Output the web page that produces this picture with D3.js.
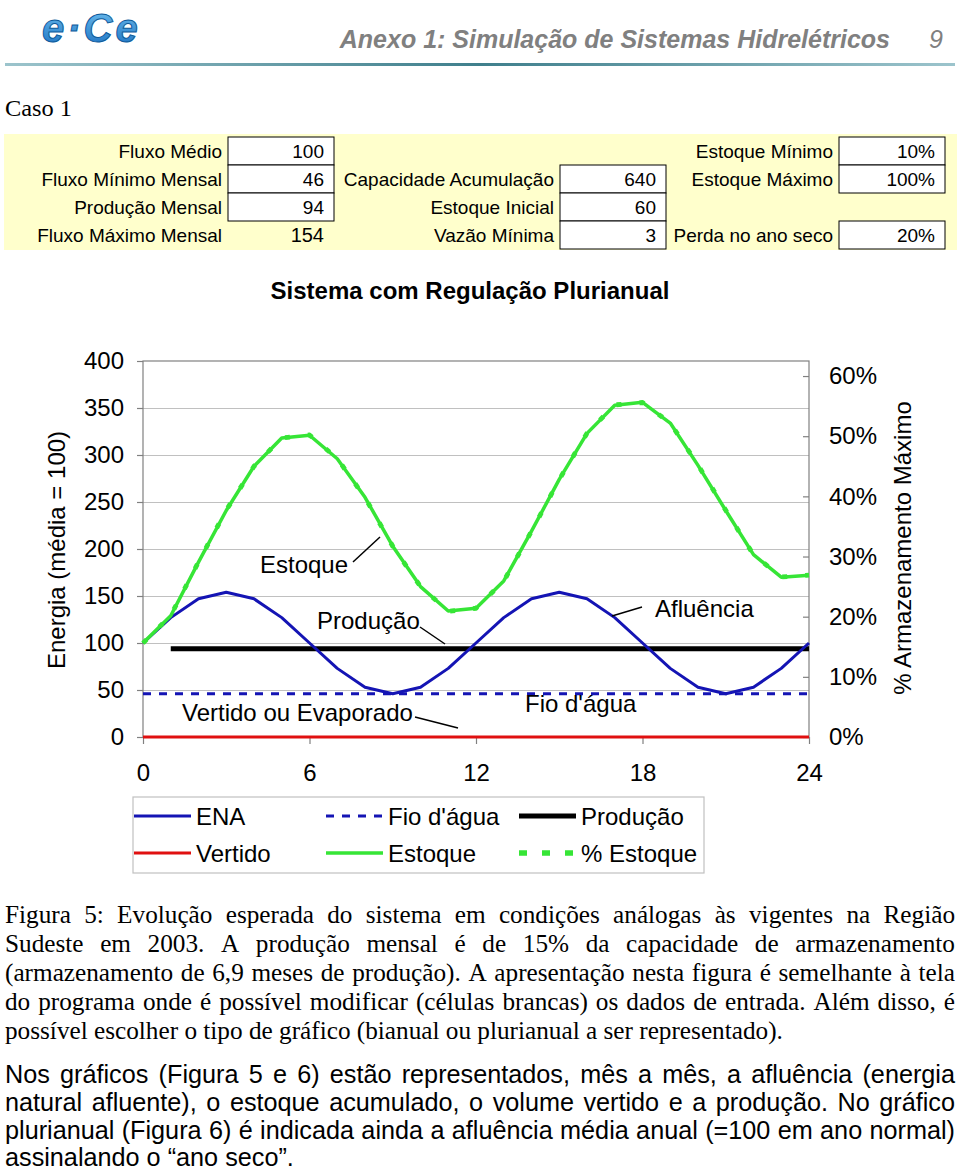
<!DOCTYPE html>
<html><head><meta charset="utf-8">
<script src="https://cdn.jsdelivr.net/npm/d3@7"></script>
<style>body{margin:0;background:#fff}</style>
</head><body>
<svg id="c" width="960" height="1171"></svg>
<script>
// ---------------- DATA ----------------
const months   = [0,1,2,3,4,5,6,7,8,9,10,11,12,13,14,15,16,17,18,19,20,21,22,23,24];
const ena      = [100,127,147,154,147,127,100,73,53,46,53,73,100,127,147,154,147,127,100,73,53,46,53,73,100];
const fioDagua = [46,46,46,46,46,46,46,46,46,46,46,46,46,46,46,46,46,46,46,46,46,46,46,46,46];
const producao = [null,94,94,94,94,94,94,94,94,94,94,94,94,94,94,94,94,94,94,94,94,94,94,94,94];
const vertido  = [0,0,0,0,0,0,0,0,0,0,0,0,0,0,0,0,0,0,0,0,0,0,0,0,0];
const estoque  = [100,129,186,241,288,318,321,296,255,203,160,134,137,166,219,274,323,353,356,334,289,241,194,170,172];
const pctEstoque = [0.156,0.202,0.291,0.377,0.450,0.497,0.502,0.463,0.398,0.317,0.250,0.209,0.214,0.259,0.342,0.428,0.505,0.552,0.556,0.522,0.452,0.377,0.303,0.266,0.269];
const capacidade = 640;
const leftTicks  = [0,50,100,150,200,250,300,350,400];
const rightTicks = [0,0.1,0.2,0.3,0.4,0.5,0.6];
const xTicks     = [0,6,12,18,24];

const col1Labels = ["Fluxo Médio","Fluxo Mínimo Mensal","Produção Mensal","Fluxo Máximo Mensal"];
const col1Values = ["100","46","94","154"];
const col1Boxed  = [true,true,true,false];
const col2Labels = ["","Capacidade Acumulação","Estoque Inicial","Vazão Mínima"];
const col2Values = ["","640","60","3"];
const col3Labels = ["Estoque Mínimo","Estoque Máximo","","Perda no ano seco"];
const col3Values = ["10%","100%","","20%"];

const legendRow1 = ["ENA","Fio d'água","Produção"];
const legendRow2 = ["Vertido","Estoque","% Estoque"];

const caption = [
 "Figura 5: Evolução esperada do sistema em condições análogas às vigentes na Região",
 "Sudeste em 2003. A produção mensal é de 15% da capacidade de armazenamento",
 "(armazenamento de 6,9 meses de produção). A apresentação nesta figura é semelhante à tela",
 "do programa onde é possível modificar (células brancas) os dados de entrada. Além disso, é",
 "possível escolher o tipo de gráfico (bianual ou plurianual a ser representado)."
];
const para2 = [
 "Nos gráficos (Figura 5 e 6) estão representados, mês a mês, a afluência (energia",
 "natural afluente), o estoque acumulado, o volume vertido e a produção. No gráfico",
 "plurianual (Figura 6) é indicada ainda a afluência média anual (=100 em ano normal)",
 "assinalando o “ano seco”."
];

// ---------------- DRAW ----------------
const svg = d3.select('#c');
const SANS = "Arial, 'Liberation Sans', sans-serif";
const SERIF = "'Times New Roman', 'Liberation Serif', serif";
svg.append('rect').attr('width',960).attr('height',1171).attr('fill','#fff');

// header
const defs = svg.append('defs');
const lg = defs.append('linearGradient').attr('id','logo').attr('x1',0).attr('y1',0).attr('x2',0).attr('y2',1);
lg.append('stop').attr('offset','0%').attr('stop-color','#6fc0f0');
lg.append('stop').attr('offset','100%').attr('stop-color','#1a6fc0');
svg.append('text').attr('x',42).attr('y',42).attr('font-family',SANS)
  .attr('font-weight','bold').attr('font-style','italic').attr('font-size',40)
  .attr('fill','url(#logo)').attr('stroke','#0d5a9a').attr('stroke-width',1)
  .attr('letter-spacing',3).text('e·Ce');
svg.append('text').attr('x',890).attr('y',48).attr('text-anchor','end')
  .attr('font-family',SANS).attr('font-weight','bold').attr('font-style','italic')
  .attr('font-size',25).attr('fill','#808080').text('Anexo 1: Simulação de Sistemas Hidrelétricos');
svg.append('text').attr('x',943).attr('y',48).attr('text-anchor','end')
  .attr('font-family',SANS).attr('font-style','italic').attr('font-size',25).attr('fill','#808080').text('9');
const grad = defs.append('linearGradient').attr('id','hl');
grad.append('stop').attr('offset','0%').attr('stop-color','#9cc4cc');
grad.append('stop').attr('offset','50%').attr('stop-color','#3f7f8c');
grad.append('stop').attr('offset','100%').attr('stop-color','#9cc4cc');
svg.append('rect').attr('x',5).attr('y',63).attr('width',950).attr('height',3).attr('fill','url(#hl)');

svg.append('text').attr('x',5).attr('y',116).attr('font-family',SERIF).attr('font-size',24)
  .attr('textLength',67).attr('lengthAdjust','spacingAndGlyphs').text('Caso 1');

// table
svg.append('rect').attr('x',4).attr('y',134).attr('width',953).attr('height',116).attr('fill','#ffffcc');
const rowY = i => 137 + 28*i;
function tableCol(labels, values, boxed, bx){
  labels.forEach((lab,i)=>{
    if (lab) svg.append('text').attr('x',bx-6).attr('y',rowY(i)+21).attr('text-anchor','end')
      .attr('font-family',SANS).attr('font-size',19).attr('fill','#000').text(lab);
    if (values[i]){
      if (boxed[i]) svg.append('rect').attr('x',bx).attr('y',rowY(i)).attr('width',106).attr('height',28)
        .attr('fill','#fff').attr('stroke','#000').attr('stroke-width',1);
      svg.append('text').attr('x',bx+96).attr('y',rowY(i)+21).attr('text-anchor','end')
        .attr('font-family',SANS).attr('font-size',boxed[i]?19:20).text(values[i]);
    }
  });
}
tableCol(col1Labels,col1Values,col1Boxed,228);
tableCol(col2Labels,col2Values,col2Values.map(v=>!!v),560);
tableCol(col3Labels,col3Values,col3Values.map(v=>!!v),839);

// title
svg.append('text').attr('x',470).attr('y',299).attr('text-anchor','middle').attr('font-family',SANS)
  .attr('font-weight','bold').attr('font-size',24).text('Sistema com Regulação Plurianual');

// chart scales
const x = d3.scaleLinear().domain([0,24]).range([143,809]);
const y = d3.scaleLinear().domain([0,400]).range([737,361]);
const y2 = d3.scaleLinear().domain([0,400/capacidade]).range([737,361]);

// gridlines
svg.append('g').attr('transform','translate(143,0)')
  .call(d3.axisLeft(y).tickValues(leftTicks.slice(1,-1)).tickSize(-666).tickFormat(''))
  .call(g=>g.select('.domain').remove())
  .call(g=>g.selectAll('line').attr('stroke','#c0c0c0').attr('stroke-width',1));
// plot border
svg.append('rect').attr('x',143).attr('y',361).attr('width',666).attr('height',376)
  .attr('fill','none').attr('stroke','#808080').attr('stroke-width',1.2);

// axes
const styleAxis = g=>{ g.select('.domain').remove();
  g.selectAll('line').attr('stroke','#808080').attr('stroke-width',1.2);
  g.selectAll('text').attr('font-family',SANS).attr('font-size',24).attr('fill','#000'); };
svg.append('g').attr('transform','translate(143,0)')
  .call(d3.axisLeft(y).tickValues(leftTicks).tickSizeInner(6).tickSizeOuter(0).tickPadding(13)).call(styleAxis);
svg.append('g').attr('transform','translate(809,0)')
  .call(d3.axisRight(y2).tickValues(rightTicks).tickSizeInner(-6).tickSizeOuter(0).tickPadding(20)
  .tickFormat(d3.format('.0%'))).call(styleAxis);
svg.append('g').attr('transform','translate(0,737)')
  .call(d3.axisBottom(x).tickValues(xTicks).tickSizeInner(7).tickSizeOuter(0).tickPadding(20)).call(styleAxis);

// axis titles
svg.append('text').attr('transform','translate(65,550) rotate(-90)').attr('text-anchor','middle')
  .attr('font-family',SANS).attr('font-size',24).text('Energia (média = 100)');
svg.append('text').attr('transform','translate(911,548) rotate(-90)').attr('text-anchor','middle')
  .attr('font-family',SANS).attr('font-size',24).text('% Armazenamento Máximo');

// series
const line = ys => d3.line().defined(d=>d!=null).x((d,i)=>x(months[i])).y(d=>ys(d));
const plot = svg.append('g').attr('fill','none').attr('stroke-linejoin','round');
plot.append('path').datum(vertido).attr('d',line(y)).attr('stroke','#e01010').attr('stroke-width',3);
plot.append('path').datum(fioDagua).attr('d',line(y)).attr('stroke','#1414b4').attr('stroke-width',3).attr('stroke-dasharray','8,8');
plot.append('path').datum(producao).attr('d',line(y)).attr('stroke','#000').attr('stroke-width',5);
plot.append('path').datum(ena).attr('d',line(y)).attr('stroke','#1414b4').attr('stroke-width',3);
plot.append('path').datum(estoque).attr('d',line(y)).attr('stroke','#36e536').attr('stroke-width',3.5);
plot.append('path').datum(pctEstoque).attr('d',line(y2)).attr('stroke','#36e536').attr('stroke-width',4.8).attr('stroke-dasharray','5,18');

// annotations
const ann = (t,xx,yy)=>svg.append('text').attr('x',xx).attr('y',yy).attr('font-family',SANS).attr('font-size',24).text(t);
const lead = (x1,y1,x2,y2_)=>svg.append('line').attr('x1',x1).attr('y1',y1).attr('x2',x2).attr('y2',y2_).attr('stroke','#000').attr('stroke-width',1.5);
ann('Estoque',260,573); lead(353,562,380,537);
ann('Produção',317,629); lead(420,627,445,644);
ann('Vertido ou Evaporado',182,721); lead(415,717,458,728);
ann("Fio d'água",525,712);
ann('Afluência',655,617); lead(642,607,612,616);

// legend
svg.append('rect').attr('x',133).attr('y',797).attr('width',571).attr('height',76).attr('fill','#fff').attr('stroke','#c0c0c0').attr('stroke-width',1.2);
const legItems = [
 {t:legendRow1[0], x:134, y:816, c:'#1414b4', w:3, da:null},
 {t:legendRow1[1], x:326, y:816, c:'#1414b4', w:3, da:'8,8'},
 {t:legendRow1[2], x:519, y:816, c:'#000', w:5, da:null},
 {t:legendRow2[0], x:134, y:853, c:'#e01010', w:3, da:null},
 {t:legendRow2[1], x:326, y:853, c:'#36e536', w:3.5, da:null},
 {t:legendRow2[2], x:519, y:853, c:'#36e536', w:5.5, da:'8,15'}
];
legItems.forEach(d=>{
  const l = svg.append('line').attr('x1',d.x).attr('x2',d.x+57).attr('y1',d.y).attr('y2',d.y)
    .attr('stroke',d.c).attr('stroke-width',d.w);
  if (d.da) l.attr('stroke-dasharray',d.da);
  svg.append('text').attr('x',d.x+62).attr('y',d.y+8.5).attr('font-family',SANS).attr('font-size',24).text(d.t);
});

// paragraphs (justified)
function measure(txt, fam){
  const t = svg.append('text').attr('font-family',fam).attr('font-size',100).text(txt);
  const w = t.node().getComputedTextLength(); t.remove(); return w;
}
function paragraph(lines, fam, lastTarget, x0, x1, baselines){
  const size = 100*lastTarget/measure(lines[lines.length-1], fam);
  const spaceW = (measure('a a',fam)-measure('aa',fam))*size/100;
  const g = svg.append('g').attr('font-family',fam).attr('font-size',size);
  lines.forEach((ln,i)=>{
    const words = ln.split(' ');
    const ts = words.map(w=>g.append('text').attr('y',baselines[i]).text(w));
    const ws = ts.map(t=>t.node().getComputedTextLength());
    const sum = d3.sum(ws);
    const gap = (i<lines.length-1) ? (x1-x0-sum)/(words.length-1) : spaceW;
    let xx = x0;
    ts.forEach((t,k)=>{ t.attr('x',xx); xx += ws[k]+gap; });
  });
}
paragraph(caption, SERIF, 778, 5, 955, [923,952,981,1010,1039]);
paragraph(para2, SANS, 289, 5, 955, [1083,1111,1139,1166]);
</script>
</body></html>
